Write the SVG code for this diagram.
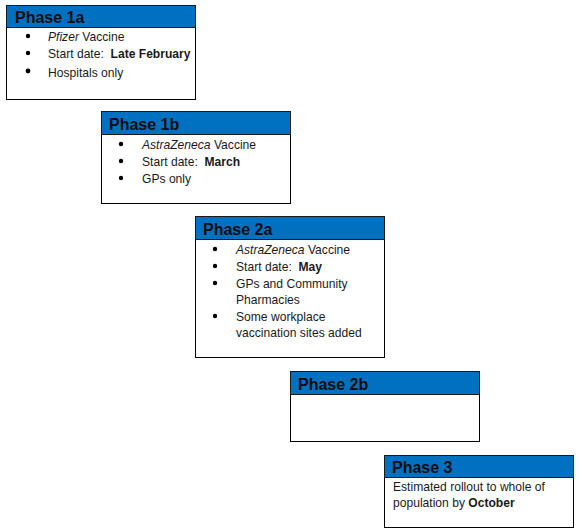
<svg xmlns="http://www.w3.org/2000/svg" width="582" height="532" viewBox="0 0 582 532">
<style>
.box{fill:#fff;stroke:#000;stroke-width:1}
.hdr{fill:#0070C0;stroke:#1a1a1a;stroke-width:1}
.ht{font-family:"Liberation Sans",Arial,sans-serif;font-size:16px;font-weight:bold;fill:#0d0d0d}
.bt{font-family:"Liberation Sans",Arial,sans-serif;font-size:12.1px;fill:#1a1a1a}
.b{font-weight:bold}
.dot{fill:#000}
</style>
<rect width="582" height="532" fill="#fff"/>
<g id="connectors"></g>
<g id="phase1a">
<rect class="box" x="6.5" y="5.5" width="189" height="94"/>
<rect class="hdr" x="6.5" y="5.5" width="189" height="22"/>
<text class="ht" x="15" y="23">Phase 1a</text>
<circle class="dot" cx="28" cy="36" r="2.2"/>
<circle class="dot" cx="28" cy="53" r="2.2"/>
<circle class="dot" cx="28" cy="71" r="2.4"/>
<text class="bt" x="48" y="40.5"><tspan font-style="italic">Pfizer</tspan> Vaccine</text>
<text class="bt" x="48" y="57.5" xml:space="preserve">Start date:  <tspan class="b">Late February</tspan></text>
<text class="bt" x="48" y="76.5">Hospitals only</text>
</g>
<g id="phase1b">
<rect class="box" x="101.5" y="111.5" width="189" height="92"/>
<rect class="hdr" x="101.5" y="111.5" width="189" height="23"/>
<text class="ht" x="109" y="130">Phase 1b</text>
<circle class="dot" cx="121" cy="144" r="2.2"/>
<circle class="dot" cx="121" cy="161" r="2.2"/>
<circle class="dot" cx="121" cy="178" r="2.2"/>
<text class="bt" x="142" y="148.5"><tspan font-style="italic">AstraZeneca</tspan> Vaccine</text>
<text class="bt" x="142" y="165.5" xml:space="preserve">Start date:  <tspan class="b">March</tspan></text>
<text class="bt" x="142" y="182.5">GPs only</text>
</g>
<g id="phase2a">
<rect class="box" x="195.5" y="216.5" width="189" height="141"/>
<rect class="hdr" x="195.5" y="216.5" width="189" height="23"/>
<text class="ht" x="203" y="235">Phase 2a</text>
<circle class="dot" cx="215" cy="249" r="2.2"/>
<circle class="dot" cx="215" cy="266" r="2.2"/>
<circle class="dot" cx="215" cy="283" r="2.2"/>
<circle class="dot" cx="215" cy="316" r="2.2"/>
<text class="bt" x="236" y="253.5"><tspan font-style="italic">AstraZeneca</tspan> Vaccine</text>
<text class="bt" x="236" y="270.5" xml:space="preserve">Start date:  <tspan class="b">May</tspan></text>
<text class="bt" x="236" y="287.5">GPs and Community</text>
<text class="bt" x="236" y="304">Pharmacies</text>
<text class="bt" x="236" y="320.5">Some workplace</text>
<text class="bt" x="236" y="337">vaccination sites added</text>
</g>
<g id="phase2b">
<rect class="box" x="290.5" y="371.5" width="189" height="70"/>
<rect class="hdr" x="290.5" y="371.5" width="189" height="23"/>
<text class="ht" x="298" y="390">Phase 2b</text>
</g>
<g id="phase3">
<rect class="box" x="384.5" y="455.5" width="189" height="72"/>
<rect class="hdr" x="384.5" y="455.5" width="189" height="22"/>
<text class="ht" x="392" y="473">Phase 3</text>
<text class="bt" x="393" y="490.5">Estimated rollout to whole of</text>
<text class="bt" x="393" y="507">population by <tspan class="b">October</tspan></text>
</g>
</svg>
